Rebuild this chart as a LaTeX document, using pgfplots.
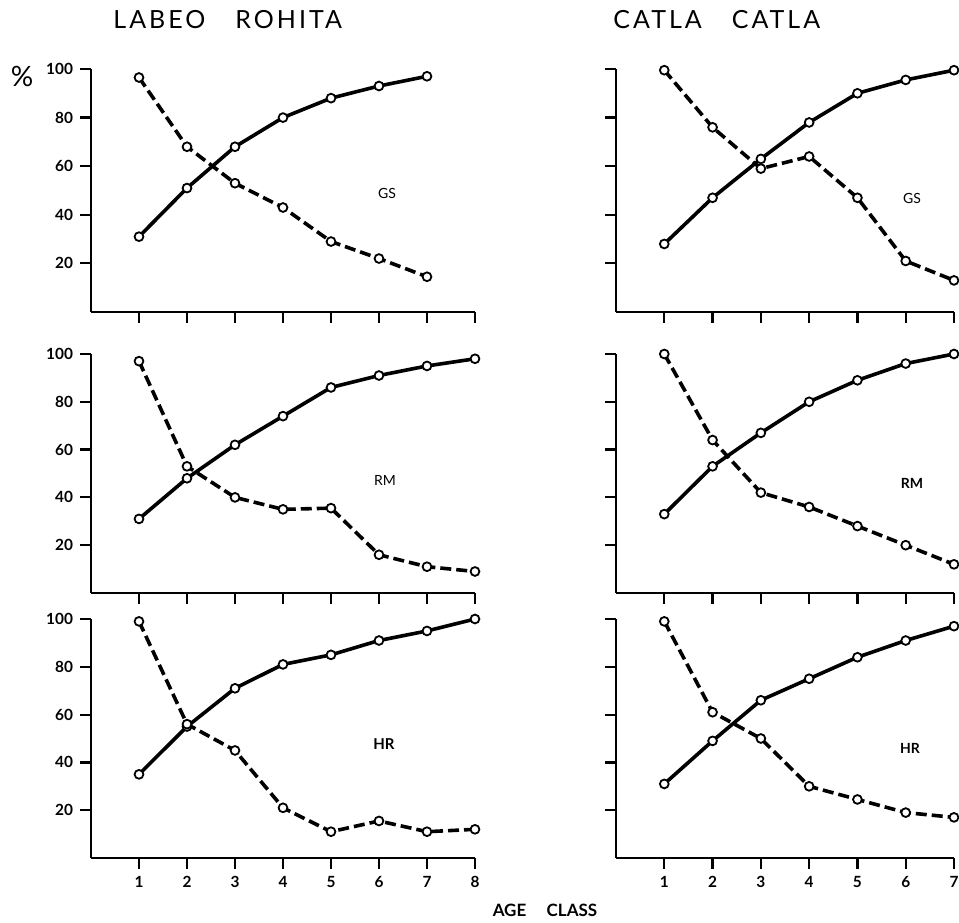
\documentclass[border=0pt]{standalone}
\usepackage{fontspec}
\setmainfont{Lato}
\usepackage{pgfplots}
\pgfplotsset{compat=1.18}
\pgfplotsset{
  panel/.style={
    scale only axis, clip=false,
    axis x line*=bottom, axis y line*=left,
    axis line style={line width=1.2pt, -},
    every tick/.style={line width=1.1pt, black},
    major tick length=5.5pt,
    tick align=outside,
    ymin=0, ymax=100, ytick={20,40,60,80,100},
    xmin=0,
    /pgf/number format/assume math mode=true,
    tick label style={font=\fontsize{7.7}{8}\selectfont\bfseries},
  },
  L/.style={panel, width=192pt, xmax=8, xtick={1,2,3,4,5,6,7,8}},
  R/.style={panel, width=169pt, xmax=7, xtick={1,2,3,4,5,6,7}, yticklabels={,,,,,,}},
  noxl/.style={xticklabels={,,,,,,,,,}},
  sol/.style={line width=1.8pt, black, mark=*, mark size=2.2pt,
    mark options={fill=white, draw=black, line width=0.9pt, solid}},
  das/.style={line width=1.8pt, black, dash pattern=on 5.5pt off 2.5pt, mark=*, mark size=2.2pt,
    mark options={fill=white, draw=black, line width=0.9pt, solid}},
}
\begin{document}
\begin{tikzpicture}[x=0.5pt, y=0.5pt]
\path[use as bounding box] (0,0) rectangle (959,922);

% Left top: GS
\begin{axis}[L, noxl, height=121.5pt, at={(45.5pt,305pt)}, anchor=south west]
\addplot[sol] coordinates {(1,31) (2,51) (3,68) (4,80) (5,88) (6,93) (7,97)};
\addplot[das] coordinates {(1,96.5) (2,68) (3,53) (4,43) (5,29) (6,22) (7,14.5)};
\end{axis}
% Right top: GS
\begin{axis}[R, noxl, height=121.5pt, at={(308pt,305pt)}, anchor=south west]
\addplot[sol] coordinates {(1,28) (2,47) (3,63) (4,78) (5,90) (6,95.5) (7,99.5)};
\addplot[das] coordinates {(1,99.5) (2,76) (3,59) (4,64) (5,47) (6,21) (7,13)};
\end{axis}
% Left middle: RM
\begin{axis}[L, noxl, height=119.5pt, at={(45.5pt,164.5pt)}, anchor=south west]
\addplot[sol] coordinates {(1,31) (2,48) (3,62) (4,74) (5,86) (6,91) (7,95) (8,98)};
\addplot[das] coordinates {(1,97) (2,53) (3,40) (4,35) (5,35.5) (6,16) (7,11) (8,9)};
\end{axis}
% Right middle: RM
\begin{axis}[R, noxl, height=119.5pt, at={(308pt,164.5pt)}, anchor=south west]
\addplot[sol] coordinates {(1,33) (2,53) (3,67) (4,80) (5,89) (6,96) (7,100)};
\addplot[das] coordinates {(1,100) (2,64) (3,42) (4,36) (5,28) (6,20) (7,12)};
\end{axis}
% Left bottom: HR
\begin{axis}[L, height=119.5pt, at={(45.5pt,32pt)}, anchor=south west]
\addplot[sol] coordinates {(1,35) (2,55) (3,71) (4,81) (5,85) (6,91) (7,95) (8,100)};
\addplot[das] coordinates {(1,99) (2,56) (3,45) (4,21) (5,11) (6,15.5) (7,11) (8,12)};
\end{axis}
% Right bottom: HR
\begin{axis}[R, height=119.5pt, at={(308pt,32pt)}, anchor=south west]
\addplot[sol] coordinates {(1,31) (2,49) (3,66) (4,75) (5,84) (6,91) (7,97)};
\addplot[das] coordinates {(1,99) (2,61) (3,50) (4,30) (5,24.5) (6,19) (7,17)};
\end{axis}

% texts
\node[anchor=west, inner sep=0pt] at (113,902) {\fontsize{12.5}{14}\selectfont\addfontfeature{LetterSpace=12}LABEO\hspace{1.2em}ROHITA};
\node[anchor=west, inner sep=0pt] at (613,902) {\fontsize{12.5}{14}\selectfont\addfontfeature{LetterSpace=12}CATLA\hspace{1.2em}CATLA};
\node[inner sep=0pt] at (22,846) {\fontsize{14}{16}\selectfont\%};
\node[inner sep=0pt] at (545,12) {\fontsize{8.5}{10}\selectfont\bfseries AGE\hspace{1.2em}CLASS};
\node[inner sep=0pt] at (387,729) {\fontsize{7}{8}\selectfont GS};
\node[inner sep=0pt] at (912,724) {\fontsize{7}{8}\selectfont GS};
\node[inner sep=0pt] at (385,442) {\fontsize{7}{8}\selectfont RM};
\node[inner sep=0pt] at (912,439) {\fontsize{7}{8}\selectfont\bfseries RM};
\node[inner sep=0pt] at (384,178) {\fontsize{7.5}{8}\selectfont\bfseries HR};
\node[inner sep=0pt] at (910,174) {\fontsize{7}{8}\selectfont\bfseries HR};
\end{tikzpicture}
\end{document}
